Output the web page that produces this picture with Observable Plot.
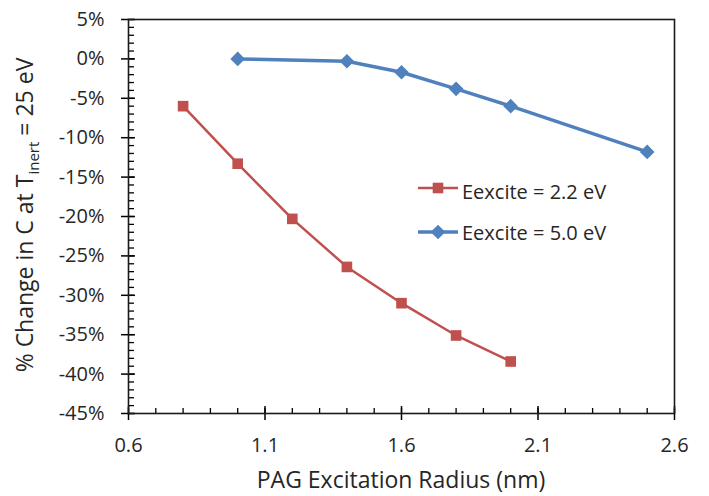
<!DOCTYPE html>
<html>
<head>
<meta charset="utf-8">
<script src="https://cdn.jsdelivr.net/npm/d3@7"></script>
<script src="https://cdn.jsdelivr.net/npm/@observablehq/plot@0.6"></script>
<style>
  html, body { margin: 0; padding: 0; background: #fff; }
  #chart svg { display: block; }
</style>
</head>
<body>
<div id="chart"></div>
<script>
// Excitation radius (nm) and % change in C for each excitation energy
const radius22 = [0.8, 1.0, 1.2, 1.4, 1.6, 1.8, 2.0];
const change22 = [-6.0, -13.3, -20.3, -26.4, -31.0, -35.1, -38.4];
const radius50 = [1.0, 1.4, 1.6, 1.8, 2.0, 2.5];
const change50 = [0.0, -0.3, -1.7, -3.8, -6.0, -11.8];

const seriesNames = ["Eexcite = 2.2 eV", "Eexcite = 5.0 eV"];
const xTicks = [0.6, 1.1, 1.6, 2.1, 2.6];
const yTicks = [5, 0, -5, -10, -15, -20, -25, -30, -35, -40, -45];
const xTitle = "PAG Excitation Radius (nm)";

const red = "#C0504D";
const blue = "#4F81BD";
const ink = "#262626";

const W = 709, H = 496;
const mL = 128, mR = 35, mT = 19, mB = 83;
const plotW = W - mL - mR, plotH = H - mT - mB;

const s22 = radius22.map((r, i) => ({r, c: change22[i]}));
const s50 = radius50.map((r, i) => ({r, c: change50[i]}));

// minor tick positions (every 0.1 nm, every 1 %)
const xMinor = d3.range(6, 27, 1).map(d => d / 10);
const yMinor = d3.range(-45, 6, 1);

const blank = () => "";

const svg = Plot.plot({
  width: W,
  height: H,
  marginLeft: mL,
  marginRight: mR,
  marginTop: mT,
  marginBottom: mB,
  style: {fontFamily: "'Open Sans', sans-serif", fontSize: "20px", color: ink, background: "#fff"},
  x: {domain: [0.6, 2.6], label: null},
  y: {domain: [-45, 5], label: null},
  marks: [
    // minor ticks, pointing into the plot area
    Plot.axisX(xMinor, {tickSize: -5, tickFormat: blank, stroke: "#000", strokeWidth: 1.3, label: null}),
    Plot.axisY(yMinor, {tickSize: -6, tickFormat: blank, stroke: "#000", strokeWidth: 1.3, label: null}),
    // major ticks crossing the axis line
    Plot.axisX(xTicks, {tickSize: -7, tickFormat: blank, stroke: "#000", strokeWidth: 1.5, label: null}),
    Plot.axisY(yTicks, {tickSize: -7, tickFormat: blank, stroke: "#000", strokeWidth: 1.5, label: null}),
    Plot.axisX(xTicks, {tickSize: 7, tickPadding: 17, tickFormat: d => d.toFixed(1), stroke: "#000", strokeWidth: 1.5, label: null}),
    Plot.axisY(yTicks, {tickSize: 7, tickPadding: 17, tickFormat: d => `${d}%`, stroke: "#000", strokeWidth: 1.5, label: null}),
    Plot.frame({stroke: "#1a1a1a", strokeWidth: 1.6}),
    // series
    Plot.line(s22, {x: "r", y: "c", stroke: red, strokeWidth: 2.5}),
    Plot.dot(s22, {x: "r", y: "c", symbol: "square", r: 6, fill: red, stroke: "none"}),
    Plot.line(s50, {x: "r", y: "c", stroke: blue, strokeWidth: 3.5}),
    Plot.dot(s50, {x: "r", y: "c", symbol: "diamond2", r: 6.6, fill: blue, stroke: "none"})
  ]
});

const root = d3.select(svg);

// x-axis title
root.append("text")
  .attr("x", mL + plotW / 2)
  .attr("y", 488)
  .attr("text-anchor", "middle")
  .attr("fill", ink)
  .style("font-size", "23px")
  .text(xTitle);

// y-axis title with subscript
const yt = root.append("text")
  .attr("transform", `translate(33,${mT + plotH / 2 - 1}) rotate(-90)`)
  .attr("text-anchor", "middle")
  .attr("fill", ink)
  .style("font-size", "23px");
yt.append("tspan").text("% Change in C at T");
yt.append("tspan").attr("dy", 6).style("font-size", "15px").text("inert");
yt.append("tspan").attr("dy", -6).text(" = 25 eV");

// legend
const legend = [
  {name: seriesNames[0], color: red, width: 2.5, symbol: d3.symbolSquare, r: 6, y: 188, ty: 199},
  {name: seriesNames[1], color: blue, width: 3.5, symbol: d3.symbolDiamond2, r: 6.6, y: 232, ty: 240}
];
const lg = root.append("g");
legend.forEach(d => {
  lg.append("line")
    .attr("x1", 418).attr("x2", 458)
    .attr("y1", d.y).attr("y2", d.y)
    .attr("stroke", d.color).attr("stroke-width", d.width);
  lg.append("path")
    .attr("transform", `translate(438,${d.y})`)
    .attr("d", d3.symbol(d.symbol, d.r * d.r * Math.PI)())
    .attr("fill", d.color);
  lg.append("text")
    .attr("x", 462).attr("y", d.ty)
    .attr("text-anchor", "start")
    .attr("fill", ink)
    .style("font-size", "20px")
    .text(d.name);
});

document.getElementById("chart").appendChild(svg);
</script>
</body>
</html>
